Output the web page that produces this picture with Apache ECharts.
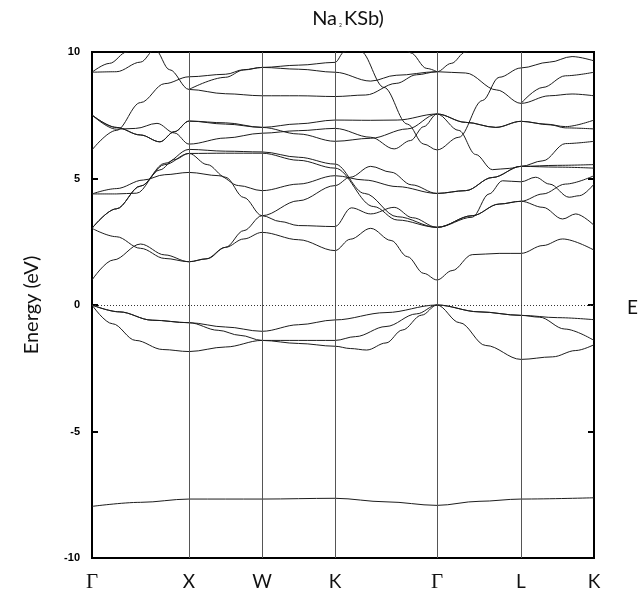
<!DOCTYPE html>
<html>
<head>
<meta charset="utf-8">
<script src="https://cdn.jsdelivr.net/npm/echarts@6/dist/echarts.min.js"></script>
<style>
  html, body { margin: 0; padding: 0; background: #fff; }
  #chart { width: 639px; height: 599px; }
</style>
</head>
<body>
<div id="chart"></div>
<script>
// High-symmetry points along the k-path (path length, arbitrary units)
const kPoints = [0, 0.97, 1.70, 2.43, 3.45, 4.29, 5.02];
const kLabels = ['Γ', 'X', 'W', 'K', 'Γ', 'L', 'K'];
const energyTicks = [-10, -5, 0, 5, 10];

// Bands: [path position t, energy eV]; integer t = high-symmetry point index
const bandSb5s = [[0,-7.96],[0.5,-7.8],[1,-7.67],[2,-7.67],[3,-7.64],[3.5,-7.78],[4,-7.92],[4.5,-7.76],[5,-7.67],[6,-7.62]];

const valence1 = [[0,0],[0.28,-0.27],[0.62,-0.6],[1,-0.70],[1.5,-0.87],[2,-1.04],[2.5,-0.78],[3,-0.59],[3.5,-0.3],[4,0],[4.5,-0.27],[5,-0.41],[5.5,-0.5],[6,-0.58]];
const valence2 = [[0,0],[0.28,-0.27],[0.62,-0.6],[1,-0.70],[1.4,-1.0],[1.7,-1.2],[2,-1.40],[2.5,-1.40],[3,-1.40],[3.2,-1.25],[3.5,-0.85],[3.8,-0.35],[4,0],[4.5,-0.27],[5,-0.41],[5.25,-0.48],[5.6,-0.95],[6,-1.40]];
const valence3 = [[0,0],[0.21,-0.74],[0.45,-1.40],[0.73,-1.76],[1,-1.84],[1.5,-1.66],[2,-1.40],[2.5,-1.52],[3,-1.63],[3.15,-1.72],[3.31,-1.78],[3.5,-1.5],[3.66,-0.99],[3.85,-0.4],[4,0],[4.27,-0.7],[4.58,-1.6],[5,-2.15],[5.43,-2.05],[5.75,-1.8],[6,-1.57]];

const cond1 = [[0,0.99],[0.22,1.78],[0.5,2.41],[0.75,1.98],[1,1.71],[1.25,1.83],[1.5,2.28],[1.75,2.61],[2,2.87],[2.5,2.58],[3,2.15],[3.15,2.6],[3.35,3.03],[3.55,2.55],[3.71,1.91],[3.87,1.25],[4,0.99],[4.18,1.36],[4.42,1.99],[4.74,2.04],[5,2.04],[5.3,2.35],[5.57,2.61],[6,2.17]];
const cond2 = [[0,3.03],[0.25,2.70],[0.5,2.24],[0.75,1.84],[1,1.71],[1.23,1.82],[1.5,2.28],[1.75,2.94],[2,3.53],[2.25,3.3],[2.5,3.14],[3,3.10],[3.16,3.84],[3.35,3.6],[3.58,3.86],[3.76,3.45],[4,3.07],[4.42,3.53],[4.74,3.99],[5,4.10],[5.3,3.86],[5.57,3.4],[5.75,3.6],[6,3.15]];
const cond3 = [[0,3.03],[0.25,3.8],[0.5,4.7],[0.75,5.6],[1,6.15],[1.5,6.08],[2,6.05],[2.5,5.84],[3,5.57],[3.29,4.41],[3.61,3.49],[4,3.07],[4.42,3.47],[4.62,4.39],[4.78,4.91],[5,4.87],[5.2,5.05],[5.39,4.78],[5.66,4.26],[5.8,4.32],[6,4.78]];
const cond4 = [[0,4.39],[0.25,4.39],[0.46,4.42],[0.7,5.34],[0.85,5.75],[1,5.99],[1.25,5.55],[1.5,5.05],[1.75,4.25],[2,3.53],[2.5,4.12],[3,4.72],[3.15,5.05],[3.35,5.48],[3.55,5.25],[3.75,4.75],[4,4.41],[4.34,4.52],[4.66,5.04],[5,5.48],[5.5,5.52],[6,5.55]];
const cond5 = [[0,4.39],[0.25,4.6],[0.53,4.94],[0.75,5.15],[1,5.24],[1.41,5.11],[1.68,4.72],[2,4.52],[2.5,4.78],[3,5.11],[3.29,4.94],[3.61,4.68],[4,4.41],[4.34,4.52],[4.66,5.04],[5,5.48],[5.5,5.45],[6,5.41]];
const cond6 = [[0,3.03],[0.25,3.8],[0.5,4.7],[0.75,5.55],[1,5.99],[1.5,6.0],[2,6.0],[2.5,5.72],[3,5.41],[3.38,3.89],[3.61,3.36],[4,3.07],[4.42,3.53],[4.74,3.99],[5,4.10],[5.3,4.39],[5.61,4.78],[6,5.11]];
const cond7 = [[0,6.13],[0.25,6.9],[0.5,8.0],[0.75,8.75],[1,9.02],[1.5,9.12],[1.75,9.3],[2,9.39],[2.5,9.48],[3,9.59],[3.09,10.0],[3.17,10.3],[3.25,10.03],[3.48,8.6],[3.71,7.15],[3.87,6.36],[4,6.13],[4.26,6.63],[4.54,8.08],[4.74,9.0],[5,9.37],[5.39,9.6],[5.7,9.82],[6,9.65]];
const cond8 = [[0,9.2],[0.25,9.22],[0.5,9.6],[0.65,10.1],[0.8,9.3],[1,8.52],[1.5,8.35],[2,8.27],[2.5,8.27],[3,8.24],[3.3,8.3],[3.6,8.76],[3.8,9.1],[4,9.22],[4.34,9.17],[4.71,8.5],[5,7.97],[5.39,8.27],[5.7,8.34],[6,8.27]];
const cond9a = [[0,9.2],[0.18,9.55],[0.36,10.0],[0.5,10.7]];
const cond9b = [[1,8.52],[1.5,9.0],[1.75,9.29],[2,9.39],[2.5,9.32],[3,9.2],[3.35,8.85],[3.6,9.08],[4,9.22],[4.17,9.55],[4.34,10.0],[4.5,10.6]];
const cond9c = [[5,7.97],[5.3,8.6],[5.61,9.06],[6,9.2]];
const cond10 = [[3.6,10.8],[3.74,9.97],[3.9,9.35],[4,9.22]];
const cond11 = [[0,7.51],[0.25,7.02],[0.5,6.72],[0.7,6.45],[0.85,6.85],[1,7.27],[1.5,7.2],[2,7.02],[2.5,7.16],[3,7.31],[3.35,7.3],[3.61,7.31],[4,7.55],[4.34,7.22],[4.7,7.02],[5,7.26],[5.34,7.15],[5.61,7.05],[6,7.31]];
const cond12 = [[0,7.51],[0.25,6.95],[0.45,6.98],[0.67,7.18],[0.85,6.8],[1,6.36],[1.5,6.6],[2,6.79],[2.5,6.89],[3,6.98],[3.35,6.63],[3.58,6.17],[3.74,6.5],[3.87,7.05],[4,7.55],[4.26,6.9],[4.46,5.95],[4.66,5.35],[4.86,5.4],[5,5.48],[5.3,5.7],[5.61,6.38],[6,6.47]];
const cond13 = [[0,7.51],[0.25,7.02],[0.5,6.72],[0.7,6.45],[0.85,6.85],[1,7.27],[1.5,7.15],[2,7.02],[2.5,6.76],[3,6.47],[3.35,6.59],[3.71,6.96],[4,7.55],[4.34,7.22],[4.7,7.02],[5,7.26],[5.4,7.12],[5.61,7.0],[6,6.96]];

const bands = [bandSb5s, valence1, valence2, valence3,
  cond1, cond2, cond3, cond4, cond5, cond6, cond7, cond8,
  cond9a, cond9b, cond9c, cond10, cond11, cond12, cond13];

// position along the path -> k coordinate
function kOf(t) {
  const i = Math.min(Math.floor(t), kPoints.length - 2);
  return kPoints[i] + (t - i) * (kPoints[i + 1] - kPoints[i]);
}

const lineColor = '#1c1c1c';
const series = bands.map(b => ({
  type: 'line',
  data: b.map(([t, e]) => [kOf(t), e]),
  smooth: 0.35,
  smoothMonotone: 'x',
  symbol: 'none',
  clip: true,
  silent: true,
  lineStyle: { color: lineColor, width: 1 }
}));

// high-symmetry verticals and the Fermi level
series.push({
  type: 'line',
  data: [],
  silent: true,
  markLine: {
    symbol: 'none',
    silent: true,
    animation: false,
    data: kPoints.slice(1, -1).map(k => ({
      xAxis: k,
      lineStyle: { color: '#555', width: 1, type: 'solid' },
      label: { show: false }
    })).concat([{
      yAxis: 0,
      lineStyle: { color: '#333', width: 1, type: [1, 2] },
      label: {
        show: true,
        position: 'end',
        distance: 33,
        formatter: '{e|E}{f|F}',
        rich: {
          e: { fontFamily: 'Lato', fontSize: 19, color: '#111', padding: [6, 0, 0, 0] },
          f: { fontFamily: 'Lato', fontSize: 11, color: '#111', padding: [16, 0, 0, 1] }
        }
      }
    }])
  }
});

const option = {
  animation: false,
  backgroundColor: '#fff',
  title: {
    text: '{n|Na}{s|2}{n|KSb)}',
    left: 343,
    textAlign: 'center',
    top: 4,
    textStyle: {
      fontWeight: 'normal',
      rich: {
        n: { fontFamily: 'Lato', fontSize: 20, fontWeight: 'normal', color: '#111' },
        s: { fontFamily: 'Lato', fontSize: 5, fontWeight: 'normal', color: '#111', padding: [13, 2, 0, 2] }
      }
    }
  },
  grid: {
    left: 92, right: 45, top: 52, bottom: 41,
    show: true, borderColor: '#000', borderWidth: 2, backgroundColor: 'transparent'
  },
  xAxis: {
    type: 'value',
    min: kPoints[0],
    max: kPoints[kPoints.length - 1],
    axisLine: { show: false },
    splitLine: { show: false },
    axisTick: { show: false },
    axisLabel: {
      customValues: kPoints,
      margin: 14,
      formatter: function (v) {
        const i = kPoints.findIndex(k => Math.abs(k - v) < 1e-6);
        if (i < 0) return '';
        const s = kLabels[i];
        return s === 'Γ' ? '{g|' + s + '}' : '{s|' + s + '}';
      },
      rich: {
        g: { fontFamily: 'Liberation Serif', fontSize: 21, color: '#111' },
        s: { fontFamily: 'Lato', fontSize: 19, color: '#111' }
      }
    }
  },
  yAxis: [{
    type: 'value',
    min: -10, max: 10, interval: 5,
    name: 'Energy (eV)',
    nameLocation: 'middle',
    nameGap: 50,
    nameTextStyle: { fontFamily: 'Lato', fontSize: 20, color: '#111' },
    axisLine: { show: false },
    splitLine: { show: false },
    axisTick: { show: true, inside: true, length: 6, lineStyle: { color: '#000', width: 2 } },
    axisLabel: {
      margin: 12,
      fontFamily: 'Liberation Sans', fontWeight: 'bold', fontSize: 11, color: '#000',
      formatter: v => energyTicks.includes(v) ? String(v) : ''
    }
  }, {
    type: 'value',
    position: 'right',
    min: -10, max: 10, interval: 5,
    axisLine: { show: false },
    splitLine: { show: false },
    axisTick: { show: true, inside: true, length: 6, lineStyle: { color: '#000', width: 2 } },
    axisLabel: { show: false }
  }],
  series: series
};

const chart = echarts.init(document.getElementById('chart'), null, { renderer: 'canvas' });
chart.setOption(option);
</script>
</body>
</html>
